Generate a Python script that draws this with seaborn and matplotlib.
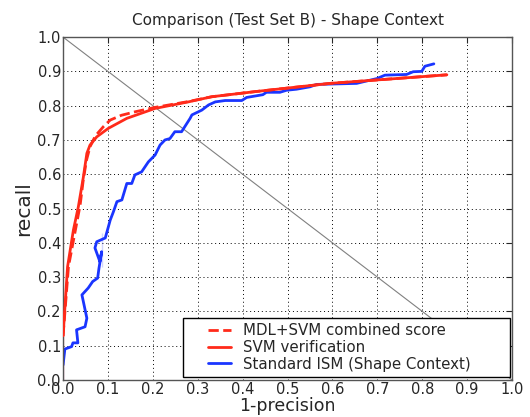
import matplotlib.pyplot as plt
import seaborn as sns
from matplotlib.patches import Rectangle

# curve data (x = 1-precision, y = recall)
ism_x = [0.0, 0.0, 0.004, 0.019, 0.022, 0.033, 0.030, 0.049, 0.053, 0.042, 0.056, 0.066,
         0.077, 0.080, 0.086, 0.082, 0.086, 0.071, 0.075, 0.094, 0.086, 0.101, 0.105,
         0.112, 0.120, 0.131, 0.142, 0.153, 0.160, 0.175, 0.190, 0.205, 0.216, 0.227,
         0.238, 0.249, 0.264, 0.283, 0.287, 0.309, 0.324, 0.339, 0.361, 0.398, 0.409,
         0.445, 0.453, 0.483, 0.498, 0.520, 0.550, 0.565, 0.654, 0.676, 0.699, 0.717,
         0.765, 0.780, 0.799, 0.806, 0.826]
ism_y = [0.0, 0.087, 0.090, 0.097, 0.108, 0.108, 0.146, 0.155, 0.180, 0.248, 0.268, 0.287,
         0.297, 0.326, 0.330, 0.345, 0.364, 0.385, 0.403, 0.414, 0.428, 0.447, 0.466,
         0.490, 0.520, 0.525, 0.573, 0.573, 0.598, 0.607, 0.636, 0.656, 0.685, 0.700,
         0.704, 0.724, 0.724, 0.763, 0.773, 0.787, 0.802, 0.811, 0.815, 0.815, 0.824,
         0.832, 0.839, 0.839, 0.845, 0.848, 0.855, 0.862, 0.865, 0.872, 0.879, 0.889,
         0.891, 0.899, 0.900, 0.915, 0.922]

svm_x = [0.0, 0.0, 0.010, 0.023, 0.034, 0.045, 0.053, 0.060, 0.075, 0.101, 0.142, 0.205,
         0.279, 0.331, 0.428, 0.595, 0.855]
svm_y = [0.0, 0.257, 0.330, 0.437, 0.505, 0.590, 0.661, 0.685, 0.709, 0.734, 0.763, 0.792,
         0.811, 0.826, 0.841, 0.865, 0.890]

mdl_x = [0.0, 0.0, 0.012, 0.025, 0.038, 0.045, 0.052, 0.060, 0.072, 0.090, 0.105, 0.130,
         0.160, 0.205, 0.279, 0.331, 0.428, 0.595, 0.855]
mdl_y = [0.0, 0.257, 0.330, 0.420, 0.510, 0.583, 0.640, 0.680, 0.712, 0.739, 0.758, 0.772,
         0.782, 0.795, 0.812, 0.826, 0.841, 0.865, 0.890]

labels = ["MDL+SVM combined score", "SVM verification", "Standard ISM (Shape Context)"]
ticks = [i / 10 for i in range(11)]
tick_labels = [f"{t:.1f}" for t in ticks]

sns.set_style("white")
plt.rcParams['font.family'] = ['DejaVu Sans']

fig = plt.figure(figsize=(5.3, 4.17), dpi=100)
ax = fig.add_axes([0.119, 0.089, 0.847, 0.822])

# diagonal reference line
ax.plot([0, 1], [1, 0], color="gray", lw=0.8, zorder=1)

sns.lineplot(x=mdl_x, y=mdl_y, ax=ax, sort=False, color="#ff2a1a", lw=2,
             linestyle="--", label=labels[0], zorder=3)
sns.lineplot(x=svm_x, y=svm_y, ax=ax, sort=False, color="#ff2a1a", lw=2,
             label=labels[1], zorder=3)
sns.lineplot(x=ism_x, y=ism_y, ax=ax, sort=False, color="#1a35ff", lw=2,
             label=labels[2], zorder=2)

ax.set_xlim(0, 1)
ax.set_ylim(0, 1)
ax.set_xticks(ticks)
ax.set_yticks(ticks)
ax.set_xticklabels(tick_labels, fontsize=10.5)
ax.set_yticklabels(tick_labels, fontsize=10.5)
ax.tick_params(direction="in", top=True, right=True, length=4, pad=1.5)
ax.grid(True, color="black", linestyle=(0, (1, 3)), lw=0.7)

for s in ax.spines.values():
    s.set_color("#555555")
    s.set_linewidth(1.0)

ax.set_title("Comparison (Test Set B) - Shape Context", fontsize=11, pad=9)
ax.set_xlabel("1-precision", fontsize=12.5, labelpad=0)
ax.set_ylabel("recall", fontsize=14.5, labelpad=3)

# MATLAB-like legend box: wide frame with the entries inset
ax.add_patch(Rectangle((0.267, 0.009), 0.729, 0.172, transform=ax.transAxes,
                       facecolor="white", edgecolor="black", lw=1.0, zorder=4))
leg = ax.legend(loc="center left", bbox_to_anchor=(0.323, 0.095), fontsize=10.8,
                frameon=False, borderpad=0, borderaxespad=0, handlelength=1.5,
                handletextpad=0.8, labelspacing=0.12)
leg.set_zorder(5)

fig.savefig("out.png", dpi=100)
